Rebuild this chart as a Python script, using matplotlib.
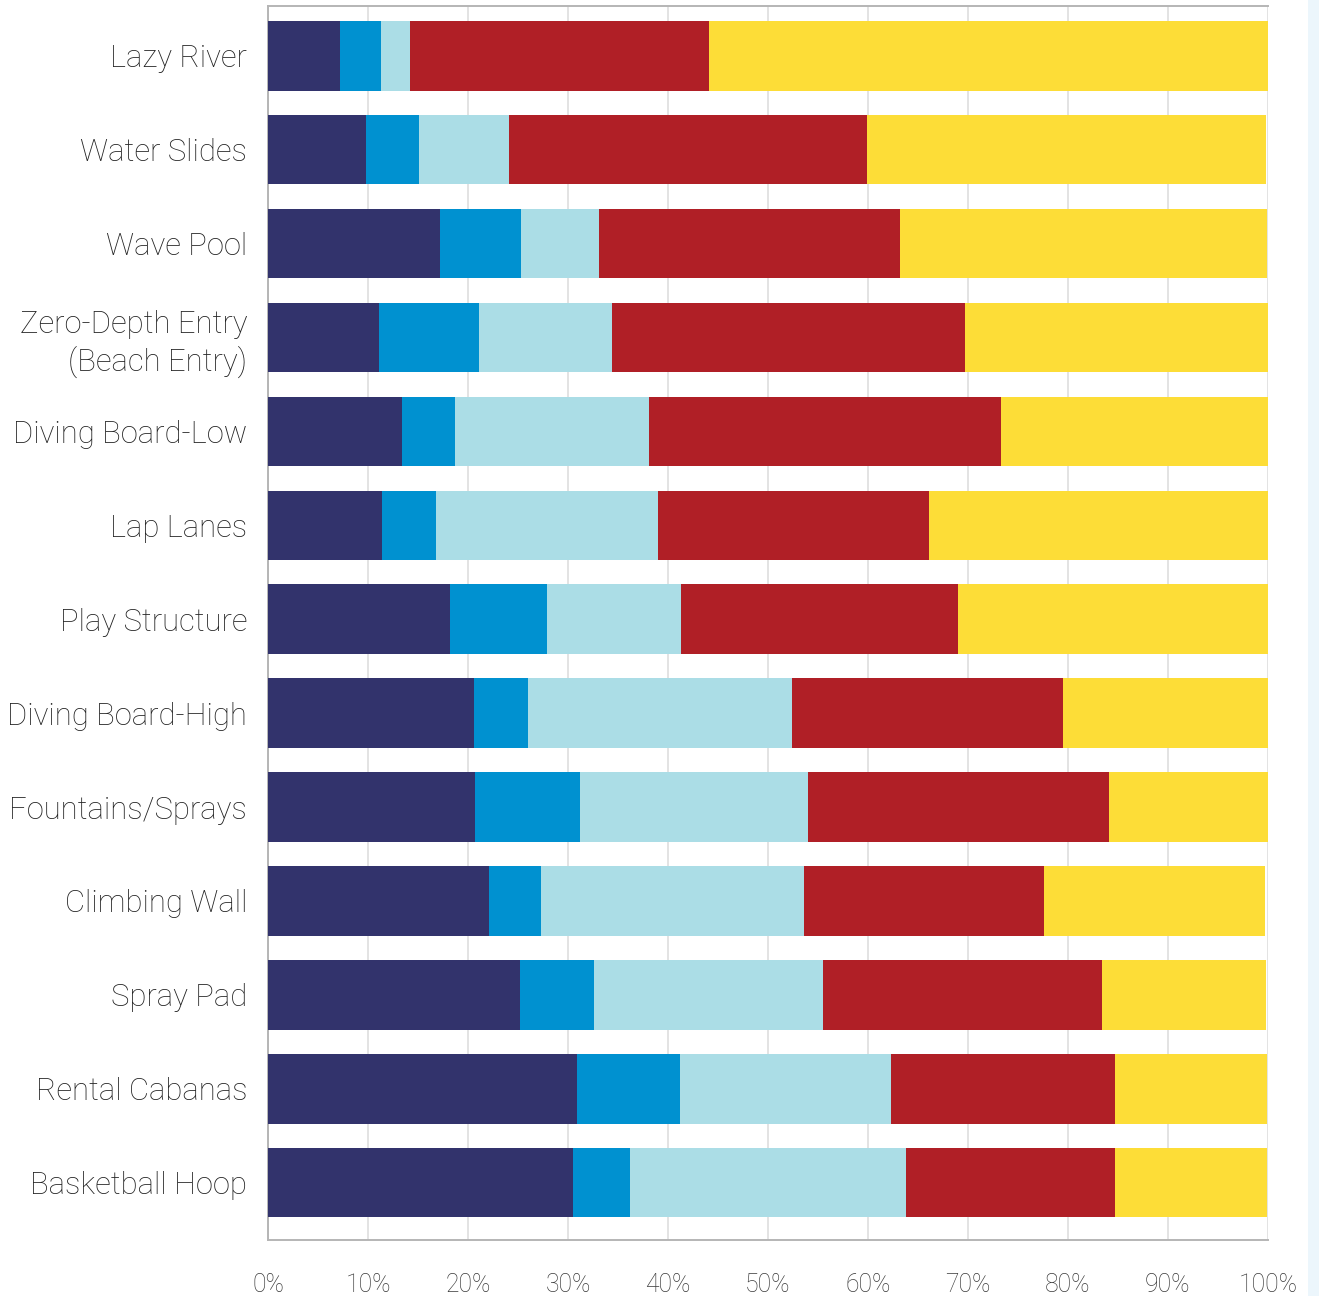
import matplotlib
matplotlib.use("Agg")
import matplotlib.pyplot as plt
from matplotlib.patches import Rectangle

plt.rcParams["font.family"] = ["Roboto", "DejaVu Sans"]

# Amenities, top to bottom
categories = [
    "Lazy River",
    "Water Slides",
    "Wave Pool",
    "Zero-Depth Entry\n(Beach Entry)",
    "Diving Board-Low",
    "Lap Lanes",
    "Play Structure",
    "Diving Board-High",
    "Fountains/Sprays",
    "Climbing Wall",
    "Spray Pad",
    "Rental Cabanas",
    "Basketball Hoop",
]

# Share of responses (%) for each of the five stacked groups
group_1 = [7.2, 9.8, 17.2, 11.1, 13.4, 11.4, 18.2, 20.6, 20.7, 22.1, 25.2, 30.9, 30.5]
group_2 = [4.1, 5.3, 8.1, 10.0, 5.3, 5.4, 9.7, 5.4, 10.5, 5.2, 7.4, 10.3, 5.7]
group_3 = [2.9, 9.0, 7.8, 13.3, 19.4, 22.2, 13.4, 26.4, 22.8, 26.3, 22.9, 21.1, 27.6]
group_4 = [29.9, 35.8, 30.1, 35.3, 35.2, 27.1, 27.7, 27.1, 30.1, 24.0, 27.9, 22.4, 20.9]
group_5 = [55.9, 39.9, 36.7, 30.5, 26.9, 34.2, 31.1, 20.7, 16.3, 22.1, 16.4, 15.2, 15.2]

x_ticks = [0, 10, 20, 30, 40, 50, 60, 70, 80, 90, 100]
x_tick_labels = ["0%", "10%", "20%", "30%", "40%", "50%", "60%", "70%", "80%", "90%", "100%"]

colors = ["#32336c", "#0091d0", "#abdde6", "#b01f26", "#fddd37"]
series = [group_1, group_2, group_3, group_4, group_5]

fig = plt.figure(figsize=(13.19, 12.96), dpi=100)
fig.patch.set_facecolor("white")
# pale panel at the right edge of the page
fig.patches.append(Rectangle((1308 / 1319, 0), 1 - 1308 / 1319, 1,
                             transform=fig.transFigure, facecolor="#ecf6fc",
                             edgecolor="none", zorder=0))

ax = fig.add_axes([268 / 1319, 1 - 1240 / 1296, 1000 / 1319, 1234 / 1296])

y = list(range(len(categories)))
left = [0.0] * len(categories)
for vals, col in zip(series, colors):
    ax.barh(y, vals, left=left, height=0.74, color=col, edgecolor="none", zorder=3)
    left = [l + v for l, v in zip(left, vals)]

ax.set_xlim(0, 100)
ax.set_ylim(12.61, -0.53)
ax.set_xticks(x_ticks)
ax.set_xticklabels(x_tick_labels, fontsize=17.8, color="#3a3a3a", fontweight="light")
ax.set_yticks(y)
ax.set_yticklabels(categories, fontsize=22.3, color="#222222", fontweight="light",
                   linespacing=1.25)
ax.tick_params(axis="x", length=0, pad=24)
ax.tick_params(axis="y", length=0, pad=15)

ax.grid(axis="x", color="#e3e3e3", linewidth=1.4, zorder=0)
ax.set_axisbelow(True)
for side in ["left", "top", "bottom"]:
    ax.spines[side].set_color("#b5b5b5")
    ax.spines[side].set_linewidth(1.4)
ax.spines["right"].set_visible(False)

fig.savefig("out.png", dpi=100)
